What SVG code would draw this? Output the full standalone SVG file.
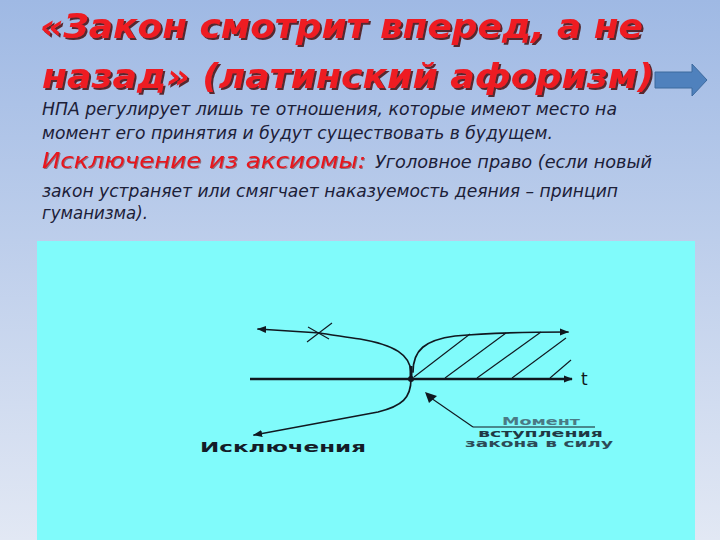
<svg xmlns="http://www.w3.org/2000/svg" width="720" height="540" viewBox="0 0 720 540">
  <defs>
    <linearGradient id="bg" x1="0" y1="0" x2="0" y2="1">
      <stop offset="0" stop-color="#9fb9e4"/>
      <stop offset="1" stop-color="#e2e8f4"/>
    </linearGradient>
    <filter id="shadow" x="-5%" y="-20%" width="110%" height="150%">
      <feDropShadow dx="2" dy="2" stdDeviation="0.4" flood-color="#4a1010" flood-opacity="0.85"/>
    </filter>
    <filter id="shadow2" x="-5%" y="-20%" width="110%" height="150%">
      <feDropShadow dx="1" dy="1" stdDeviation="0.3" flood-color="#5c1414" flood-opacity="0.5"/>
    </filter>
    <marker id="ah" viewBox="0 0 10 10" refX="9" refY="5" markerWidth="9" markerHeight="9" markerUnits="userSpaceOnUse" orient="auto">
      <path d="M0,1 L10,5 L0,9 Z" fill="#101820"/>
    </marker>
  </defs>
  <style>
    .title { font-family: "DejaVu Sans", "Liberation Sans", sans-serif; font-weight: bold; font-style: italic; font-size: 33px; fill: #ee1c24; }
    .body { font-family: "DejaVu Sans", "Liberation Sans", sans-serif; font-style: italic; font-size: 17px; fill: #1c2038; }
    .rbody { font-family: "DejaVu Sans", "Liberation Sans", sans-serif; font-style: italic; font-size: 21px; fill: #e8141c; }
    .ln { fill: none; stroke: #101820; stroke-width: 1.7; stroke-linecap: round; }
    .thin { fill: none; stroke: #101820; stroke-width: 1.1; }
    .lbl { font-family: "DejaVu Sans", "Liberation Sans", sans-serif; font-weight: bold; }
  </style>

  <rect x="0" y="0" width="720" height="540" fill="url(#bg)"/>

  <g id="title" filter="url(#shadow)">
    <text class="title" x="40" y="38" textLength="603" lengthAdjust="spacingAndGlyphs">«Закон смотрит вперед, а не</text>
    <text class="title" x="42" y="88" textLength="612" lengthAdjust="spacingAndGlyphs">назад» (латинский афоризм)</text>
  </g>

  <g id="next-arrow">
    <polygon points="655,72 692,72 692,64 707,80 692,96 692,88 655,88" fill="#4f81bd" stroke="#3d6a9e" stroke-width="1"/>
  </g>

  <g id="text-body">
    <text class="body" x="42" y="115" textLength="575" lengthAdjust="spacingAndGlyphs">НПА регулирует лишь те отношения, которые имеют место на</text>
    <text class="body" x="42" y="139" textLength="511" lengthAdjust="spacingAndGlyphs">момент его принятия и будут существовать в будущем.</text>
    <text class="rbody" x="42" y="168" textLength="324" lengthAdjust="spacingAndGlyphs" filter="url(#shadow2)">Исключение из аксиомы:</text>
    <text class="body" x="375" y="168" textLength="277" lengthAdjust="spacingAndGlyphs">Уголовное право (если новый</text>
    <text class="body" x="42" y="197" textLength="576" lengthAdjust="spacingAndGlyphs">закон устраняет или смягчает наказуемость деяния – принцип</text>
    <text class="body" x="42" y="219" textLength="106" lengthAdjust="spacingAndGlyphs">гуманизма).</text>
  </g>

  <g id="panel">
    <rect x="37" y="241" width="658" height="299" fill="#80fbfb"/>
  </g>

  <g id="connectors">
    <!-- time axis -->
    <line x1="250" y1="379" x2="572" y2="379" stroke="#101820" stroke-width="2.4" marker-end="url(#ah)"/>
    <!-- upper left curve (past, crossed out) -->
    <path class="ln" d="M411,372 C410,355 395,345 360,339 C340,336 325,334 320,333 L258,329" marker-end="url(#ah)"/>
    <!-- upper right curve -->
    <path class="ln" d="M413,372 C413,350 425,340 455,336 C490,333 530,332 568,332" marker-end="url(#ah)"/>
    <!-- lower curve (exceptions) -->
    <path class="ln" d="M411,379 C411,398 402,406 378,412 L254,435" marker-end="url(#ah)"/>
    <!-- thick mark at origin -->
    <line x1="411" y1="366" x2="411" y2="379" stroke="#101820" stroke-width="3"/>
    <circle cx="411" cy="379" r="3" fill="#101820"/>
    <!-- cross mark -->
    <line class="thin" x1="307" y1="342" x2="332" y2="323"/>
    <line class="thin" x1="308" y1="327" x2="329" y2="339"/>
    <!-- hatching -->
    <line class="thin" x1="414" y1="377" x2="470" y2="334"/>
    <line class="thin" x1="445" y1="378" x2="506" y2="333"/>
    <line class="thin" x1="477" y1="378" x2="541" y2="332"/>
    <line class="thin" x1="512" y1="378" x2="566" y2="338"/>
    <line class="thin" x1="550" y1="378" x2="571" y2="360"/>
    <!-- pointer to moment -->
    <line class="thin" x1="595" y1="427" x2="473" y2="427"/>
    <line class="thin" x1="473" y1="427" x2="431" y2="398"/>
    <polygon points="425,392 437,396 429,403" fill="#101820"/>
  </g>

  <g id="labels">
    <text class="lbl" x="581" y="385" style="font-size:17px;font-weight:normal" fill="#101820">t</text>
    <text class="lbl" x="200" y="452" style="font-size:14px" fill="#141c28" textLength="166" lengthAdjust="spacingAndGlyphs">Исключения</text>
    <text class="lbl" x="502" y="425" style="font-size:11px" fill="#4a7a85" textLength="78" lengthAdjust="spacingAndGlyphs">Момент</text>
    <text class="lbl" x="478" y="437" style="font-size:10px" fill="#1f3844" textLength="125" lengthAdjust="spacingAndGlyphs">вступления</text>
    <text class="lbl" x="465" y="447" style="font-size:10px" fill="#2c4a56" textLength="148" lengthAdjust="spacingAndGlyphs">закона в силу</text>
  </g>
</svg>
